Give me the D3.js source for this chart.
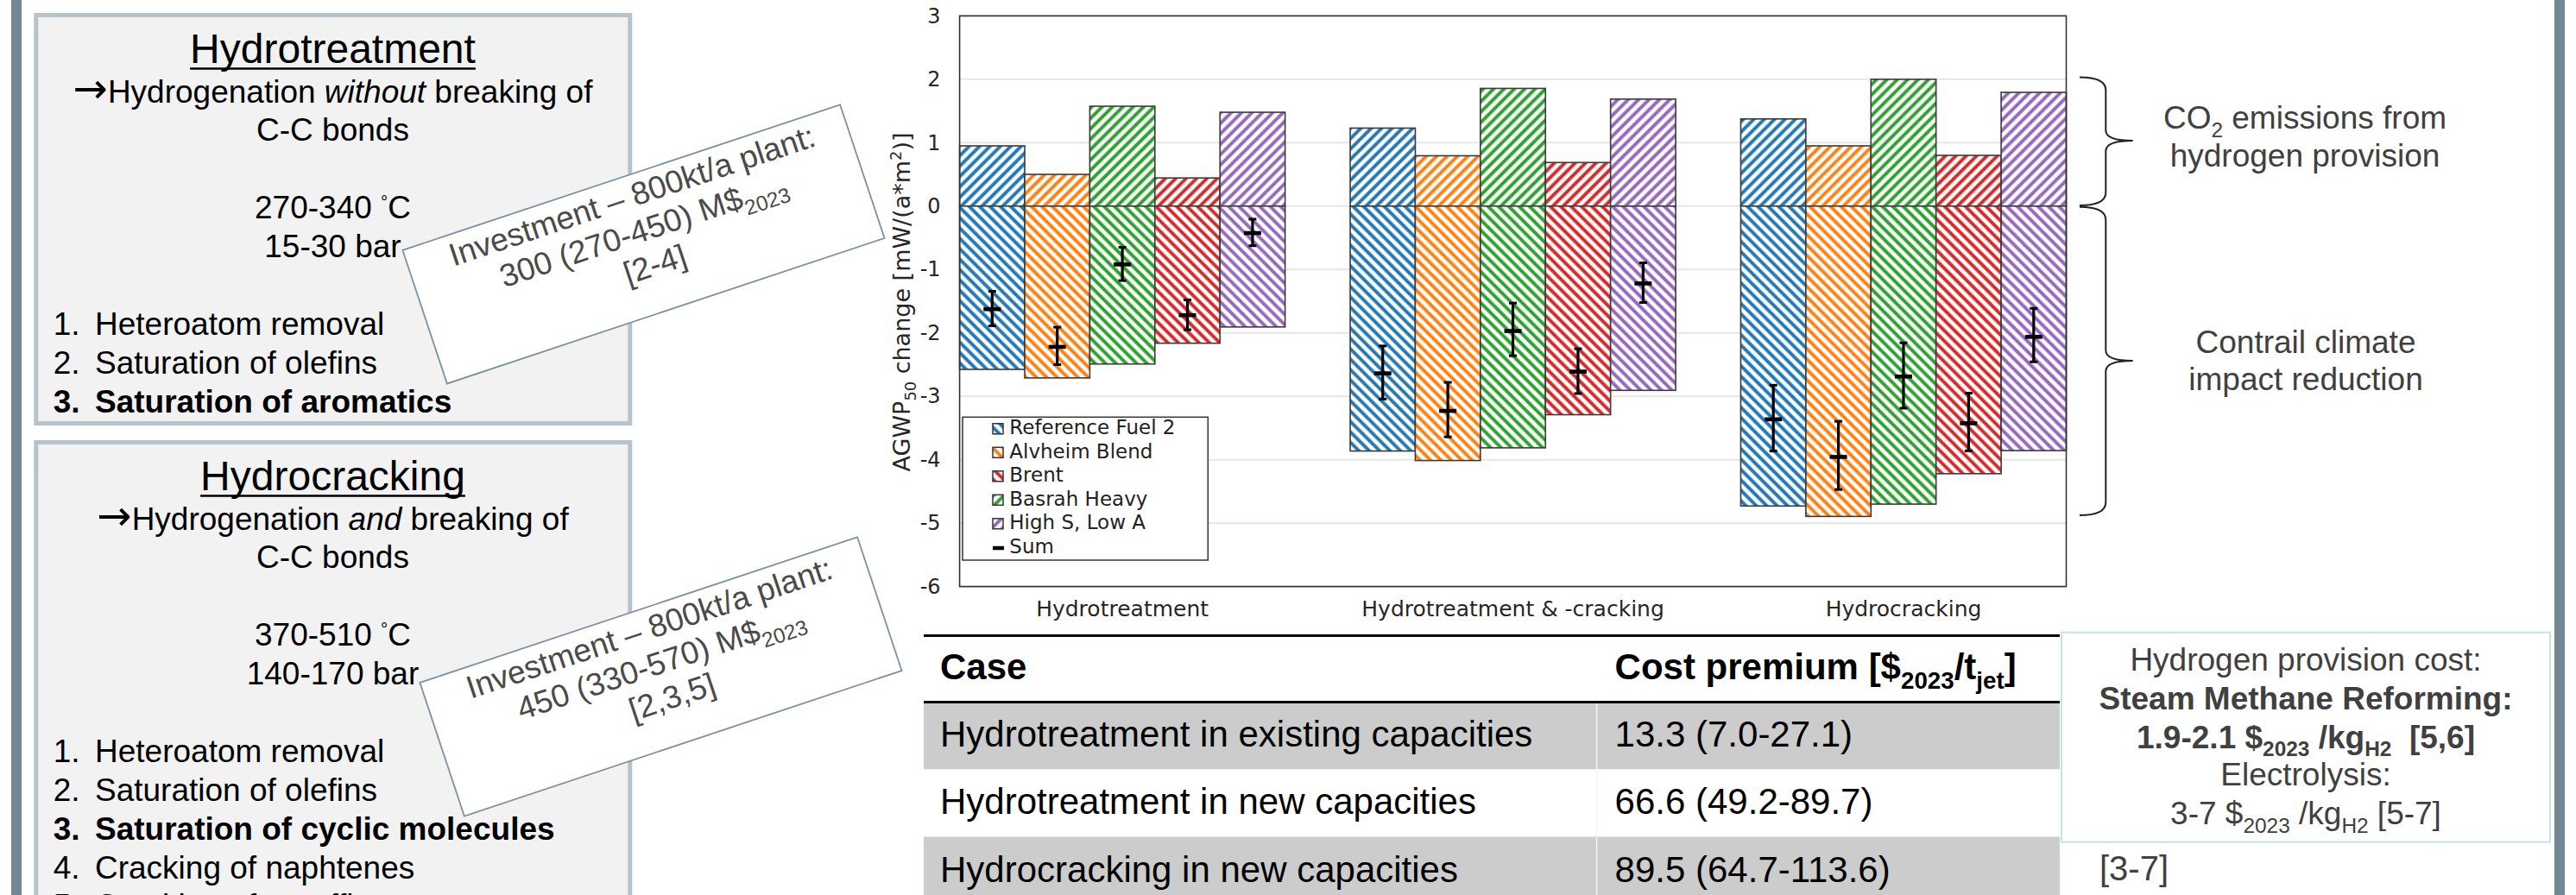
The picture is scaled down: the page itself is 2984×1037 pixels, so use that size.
<!DOCTYPE html>
<html><head><meta charset="utf-8">
<script src="https://cdn.jsdelivr.net/npm/d3@7"></script>
<style>html,body{margin:0;padding:0;background:#fff;overflow:hidden}svg{display:block}</style>
</head><body>
<svg id="fig" width="2984" height="1037"></svg>
<script>
// ---------------- DATA ----------------
const groups = ["Hydrotreatment", "Hydrotreatment & -cracking", "Hydrocracking"];
const fuels = ["Reference Fuel 2", "Alvheim Blend", "Basrah Heavy", "Brent", "High S, Low A"];
const fuelColors = ["#1f77b4", "#ff7f0e", "#2ca02c", "#d62728", "#9467bd"];
const legendOrder = ["Reference Fuel 2", "Alvheim Blend", "Brent", "Basrah Heavy", "High S, Low A"];
// CO2 emissions from hydrogen provision (positive part), per group, per fuel
const co2Emissions = [
  [0.95, 0.50, 1.575, 0.444, 1.48],
  [1.23, 0.794, 1.856, 0.6875, 1.6875],
  [1.375, 0.95, 2.00, 0.80, 1.794]
];
// contrail climate impact reduction (negative part)
const contrailReduction = [
  [-2.575, -2.71, -2.49, -2.1625, -1.906],
  [-3.8625, -4.0125, -3.8125, -3.29, -2.906],
  [-4.73, -4.894, -4.70, -4.22, -3.856]
];
const sumValues = [
  [-1.625, -2.22, -0.92, -1.72, -0.425],
  [-2.6375, -3.23, -1.97, -2.61, -1.22],
  [-3.3625, -3.956, -2.6875, -3.425, -2.0625]
];
const sumUpper = [
  [-1.344, -1.91, -0.65, -1.48, -0.206],
  [-2.206, -2.78, -1.53, -2.25, -0.894],
  [-2.825, -3.394, -2.156, -2.95, -1.6125]
];
const sumLower = [
  [-1.888, -2.50, -1.175, -1.95, -0.625],
  [-3.044, -3.64, -2.36, -2.956, -1.52],
  [-3.8625, -4.47, -3.1875, -3.86, -2.456]
];
const yTicks = [3, 2, 1, 0, -1, -2, -3, -4, -5, -6];

const processTitles = ["Hydrotreatment", "Hydrocracking"];
const processModes = ["without", "and"];
const processTemps = ["270-340", "370-510"];
const processPressures = ["15-30 bar", "140-170 bar"];
const processSteps = [
  ["Heteroatom removal", "Saturation of olefins", "Saturation of aromatics"],
  ["Heteroatom removal", "Saturation of olefins", "Saturation of cyclic molecules", "Cracking of naphtenes", "Cracking of paraffins"]
];
const investValues = ["300 (270-450) M$", "450 (330-570) M$"];
const investRefs = ["[2-4]", "[2,3,5]"];

const tableCases = ["Hydrotreatment in existing capacities", "Hydrotreatment in new capacities", "Hydrocracking in new capacities"];
const tableCosts = ["13.3 (7.0-27.1)", "66.6 (49.2-89.7)", "89.5 (64.7-113.6)"];

// ---------------- HELPERS ----------------
const svg = d3.select("#fig");
const SANS = "'Liberation Sans', Arial, Helvetica, sans-serif";
const DJ = "'DejaVu Sans', Verdana, sans-serif";

function rich(parent, x, y, parts, o) {
  const t = parent.append("text").attr("x", x).attr("y", y)
    .attr("font-family", o.family || SANS).attr("font-size", o.size)
    .attr("fill", o.fill || "#000").attr("text-anchor", o.anchor || "start")
    .attr("font-weight", o.weight || "normal").style("white-space", "pre");
  if (o.transform) t.attr("transform", o.transform);
  let off = 0;
  parts.forEach(p => {
    if (typeof p === "string") p = {t: p};
    let target = p.sub ? o.size * 0.26 : p.sup ? -o.size * 0.38 : 0;
    if (p.raise) target = -o.size * p.raise;
    const ts = t.append("tspan").text(p.t).attr("dy", target - off);
    off = target;
    if (p.sub || p.sup) ts.attr("font-size", o.size * 0.66);
    if (p.scale) ts.attr("font-size", o.size * p.scale);
    if (p.fam) ts.attr("font-family", p.fam);
    if (p.b) ts.attr("font-weight", "bold");
    if (p.i) ts.attr("font-style", "italic");
  });
  return t;
}

// ---------------- SIDE BARS ----------------
svg.append("rect").attr("x", 13).attr("y", 0).attr("width", 12).attr("height", 1037).attr("fill", "#718796");
svg.append("rect").attr("x", 2959).attr("y", 0).attr("width", 12).attr("height", 1037).attr("fill", "#718796");

// ---------------- LEFT PROCESS BOXES ----------------
const boxTops = [15, 510];
const boxBottoms = [493, 1120];
processTitles.forEach((title, k) => {
  const top = boxTops[k];
  const g = svg.append("g");
  g.append("rect").attr("x", 41.8).attr("y", top + 2.5).attr("width", 688).attr("height", boxBottoms[k] - top - 5)
    .attr("fill", "#f2f2f2").attr("stroke", "#b7c3cb").attr("stroke-width", 5);
  const cx = 385.5;
  const tt = rich(g, cx, top + 58.3, [title], {size: 48, anchor: "middle"});
  const w = tt.node().getComputedTextLength();
  g.append("line").attr("x1", cx - w / 2).attr("x2", cx + w / 2).attr("y1", top + 64.5).attr("y2", top + 64.5)
    .attr("stroke", "#000").attr("stroke-width", 2.6);
  rich(g, cx, top + 103.5, [{t: "\u2192", fam: DJ, scale: 1.3, raise: -0.02}, {t: "Hydrogenation "}, {t: processModes[k], i: true}, " breaking of"], {size: 37, anchor: "middle"});
  rich(g, cx, top + 148.3, ["C-C bonds"], {size: 37, anchor: "middle"});
  rich(g, cx, top + 238.3, [processTemps[k] + " ", {t: "\u00b0", scale: 0.55, raise: 0.32}, "C"], {size: 37, anchor: "middle"});
  rich(g, cx, top + 283, [processPressures[k]], {size: 37, anchor: "middle"});
  processSteps[k].forEach((s, i) => {
    const bold = i === 2 ? "bold" : "normal";
    rich(g, 61.7, top + 373.2 + i * 44.8, [(i + 1) + "."], {size: 37, weight: bold});
    rich(g, 110, top + 373.2 + i * 44.8, [s], {size: 37, weight: bold});
  });
});

// ---------------- INVESTMENT BOXES ----------------
const investCenters = [[745.5, 282.9], [765.5, 784]];
investValues.forEach((v, k) => {
  const g = svg.append("g").attr("transform", `translate(${investCenters[k][0]},${investCenters[k][1]}) rotate(-18.4)`);
  g.append("rect").attr("x", -267).attr("y", -81.5).attr("width", 534).attr("height", 163)
    .attr("fill", "#fff").attr("stroke", "#7d929e").attr("stroke-width", 1.8);
  const o = {size: 37, anchor: "middle", fill: "#4a4a4a"};
  rich(g, 5, -45, ["Investment \u2013 800kt/a plant:"], o);
  rich(g, 5, -3, [v, {t: "2023", sub: true}], o);
  rich(g, 5, 39, [investRefs[k]], o);
});

// ---------------- CHART ----------------
const plot = {left: 1111.6, right: 2393.5, top: 18.4, bottom: 679.6};
const x0 = d3.scaleBand().domain(groups).range([plot.left, plot.right]).paddingInner(1 / 6).paddingOuter(0);
const x1 = d3.scaleBand().domain(fuels).range([0, x0.bandwidth()]).padding(0);
const y = d3.scaleLinear().domain([-6, 3]).range([plot.bottom, plot.top]);

const defs = svg.append("defs");
fuelColors.forEach((c, i) => {
  [["pos", 45], ["neg", -45]].forEach(([kind, ang]) => {
    const p = defs.append("pattern").attr("id", `${kind}${i}`).attr("patternUnits", "userSpaceOnUse")
      .attr("width", 8.5).attr("height", 8.5).attr("patternTransform", `rotate(${ang})`);
    p.append("rect").attr("width", 8.5).attr("height", 8.5).attr("fill", "#fff");
    p.append("rect").attr("x", 2.3).attr("y", -1).attr("width", 3.9).attr("height", 10.5).attr("fill", c);
  });
});

// gridlines
svg.append("g").selectAll("line").data(yTicks).join("line")
  .attr("x1", plot.left).attr("x2", plot.right).attr("y1", d => y(d)).attr("y2", d => y(d))
  .attr("stroke", "#e6e6e6").attr("stroke-width", 2);

// bars
const barG = svg.append("g");
groups.forEach((gname, gi) => {
  fuels.forEach((f, fi) => {
    const bx = x0(gname) + x1(f);
    barG.append("rect").attr("x", bx).attr("width", x1.bandwidth())
      .attr("y", y(co2Emissions[gi][fi])).attr("height", y(0) - y(co2Emissions[gi][fi]))
      .attr("fill", `url(#pos${fi})`).attr("stroke", "#3a3a3a").attr("stroke-width", 1.6);
    barG.append("rect").attr("x", bx).attr("width", x1.bandwidth())
      .attr("y", y(0)).attr("height", y(contrailReduction[gi][fi]) - y(0))
      .attr("fill", `url(#neg${fi})`).attr("stroke", "#3a3a3a").attr("stroke-width", 1.6);
  });
});

// sum markers with error bars
const errG = svg.append("g");
groups.forEach((gname, gi) => {
  fuels.forEach((f, fi) => {
    const cx = x0(gname) + x1(f) + x1.bandwidth() / 2;
    errG.append("line").attr("x1", cx).attr("x2", cx).attr("y1", y(sumUpper[gi][fi])).attr("y2", y(sumLower[gi][fi]))
      .attr("stroke", "#000").attr("stroke-width", 3.2);
    [sumUpper[gi][fi], sumLower[gi][fi]].forEach(v => {
      errG.append("line").attr("x1", cx - 4.5).attr("x2", cx + 4.5).attr("y1", y(v)).attr("y2", y(v))
        .attr("stroke", "#000").attr("stroke-width", 3);
    });
    errG.append("line").attr("x1", cx - 10).attr("x2", cx + 10).attr("y1", y(sumValues[gi][fi])).attr("y2", y(sumValues[gi][fi]))
      .attr("stroke", "#000").attr("stroke-width", 4.6);
  });
});

// axes
const yAx = svg.append("g").attr("transform", `translate(${plot.left},0)`)
  .call(d3.axisLeft(y).tickValues(yTicks).tickSize(0).tickPadding(22).tickFormat(d => String(d)));
yAx.select(".domain").remove();
yAx.selectAll("text").attr("font-family", DJ).attr("font-size", 24).attr("fill", "#262626");

const xAx = svg.append("g").attr("transform", `translate(0,${plot.bottom})`)
  .call(d3.axisBottom(x0).tickSize(0).tickPadding(16.5));
xAx.select(".domain").remove();
xAx.selectAll("text").attr("font-family", DJ).attr("font-size", 25).attr("fill", "#262626");

// y label
rich(svg, 0, 0, ["AGWP", {t: "50", sub: true}, " change [mW/(a*m", {t: "2", sup: true}, ")]"],
  {size: 27, family: DJ, anchor: "middle", fill: "#262626", transform: "translate(1054,350) rotate(-90)"});

// frame
svg.append("rect").attr("x", plot.left).attr("y", plot.top).attr("width", plot.right - plot.left)
  .attr("height", plot.bottom - plot.top).attr("fill", "none").attr("stroke", "#333").attr("stroke-width", 1.6);

// legend
const lg = svg.append("g");
lg.append("rect").attr("x", 1115).attr("y", 483.3).attr("width", 284.3).attr("height", 165.7)
  .attr("fill", "#fff").attr("stroke", "#333").attr("stroke-width", 1.5);
legendOrder.forEach((name, i) => {
  const fi = fuels.indexOf(name);
  const by = 503.3 + i * 27.5;
  lg.append("rect").attr("x", 1150).attr("y", by - 12.5).attr("width", 12).attr("height", 12)
    .attr("fill", `url(#${i < 3 ? "neg" : "pos"}${fi})`).attr("stroke", "#333").attr("stroke-width", 1.5);
  rich(lg, 1169.3, by, [name], {size: 23, family: DJ, fill: "#222"});
});
lg.append("line").attr("x1", 1150).attr("x2", 1163).attr("y1", 635).attr("y2", 635).attr("stroke", "#000").attr("stroke-width", 4.5);
rich(lg, 1169.3, 503.3 + 5 * 27.5, ["Sum"], {size: 23, family: DJ, fill: "#222"});

// braces
function brace(yTop, yBot, yTip) {
  const xs = 2409, xm = 2439.3, xt = 2470.7;
  return `M${xs},${yTop} Q${xm},${yTop} ${xm},${yTop + 15} L${xm},${yTip - 12} Q${xm},${yTip} ${xt},${yTip}` +
    ` Q${xm},${yTip} ${xm},${yTip + 12} L${xm},${yBot - 15} Q${xm},${yBot} ${xs},${yBot}`;
}
svg.append("path").attr("d", brace(89.5, 237.9, 163)).attr("fill", "none").attr("stroke", "#222").attr("stroke-width", 2);
svg.append("path").attr("d", brace(239.7, 597, 417.9)).attr("fill", "none").attr("stroke", "#222").attr("stroke-width", 2);
const bo = {size: 37, anchor: "middle", fill: "#404040"};
rich(svg, 2670, 149, ["CO", {t: "2", sub: true}, " emissions from"], bo);
rich(svg, 2670, 193, ["hydrogen provision"], bo);
rich(svg, 2671, 408.7, ["Contrail climate"], bo);
rich(svg, 2671, 452.3, ["impact reduction"], bo);

// ---------------- TABLE ----------------
const tg = svg.append("g");
const rowTops = [814.5, 891.7, 969];
const rowBots = [891.7, 969, 1040];
tableCases.forEach((c, i) => {
  tg.append("rect").attr("x", 1070).attr("y", rowTops[i]).attr("width", 1316).attr("height", rowBots[i] - rowTops[i])
    .attr("fill", i % 2 === 0 ? "#cccccc" : "#ffffff");
});
tg.append("line").attr("x1", 1070).attr("x2", 2386).attr("y1", 891.7).attr("y2", 891.7).attr("stroke", "#f4f4f4").attr("stroke-width", 1.5);
tg.append("line").attr("x1", 1070).attr("x2", 2386).attr("y1", 969).attr("y2", 969).attr("stroke", "#f4f4f4").attr("stroke-width", 1.5);
tg.append("line").attr("x1", 1849.6).attr("x2", 1849.6).attr("y1", 814.5).attr("y2", 1037).attr("stroke", "#f4f4f4").attr("stroke-width", 1.5);
tg.append("line").attr("x1", 1070).attr("x2", 2386).attr("y1", 736.5).attr("y2", 736.5).attr("stroke", "#000").attr("stroke-width", 3);
tg.append("line").attr("x1", 1070).attr("x2", 2386).attr("y1", 813.5).attr("y2", 813.5).attr("stroke", "#000").attr("stroke-width", 3);
rich(tg, 1089, 787, ["Case"], {size: 42, weight: "bold"});
rich(tg, 1870.6, 787, ["Cost premium [$", {t: "2023", sub: true}, "/t", {t: "jet", sub: true}, "]"], {size: 42, weight: "bold"});
const rowBase = [865, 943.3, 1021.7];
tableCases.forEach((c, i) => {
  rich(tg, 1089, rowBase[i], [c], {size: 42});
  rich(tg, 1870.6, rowBase[i], [tableCosts[i]], {size: 42});
});

// ---------------- HYDROGEN COST BOX ----------------
const hg = svg.append("g");
hg.append("rect").attr("x", 2388).attr("y", 732.7).attr("width", 566).attr("height", 243)
  .attr("fill", "#fff").attr("stroke", "#c3e3e8").attr("stroke-width", 2);
const ho = {size: 37, anchor: "middle", fill: "#404040"};
rich(hg, 2671, 776.7, ["Hydrogen provision cost:"], ho);
rich(hg, 2671, 821.7, ["Steam Methane Reforming:"], Object.assign({}, ho, {weight: "bold"}));
rich(hg, 2671, 866.7, ["1.9-2.1 $", {t: "2023", sub: true}, " /kg", {t: "H2", sub: true}, "  [5,6]"], Object.assign({}, ho, {weight: "bold"}));
rich(hg, 2671, 910, ["Electrolysis:"], ho);
rich(hg, 2671, 955, ["3-7 $", {t: "2023", sub: true}, " /kg", {t: "H2", sub: true}, " [5-7]"], ho);
rich(svg, 2432, 1020, ["[3-7]"], {size: 40, fill: "#404040"});
</script>
</body></html>
